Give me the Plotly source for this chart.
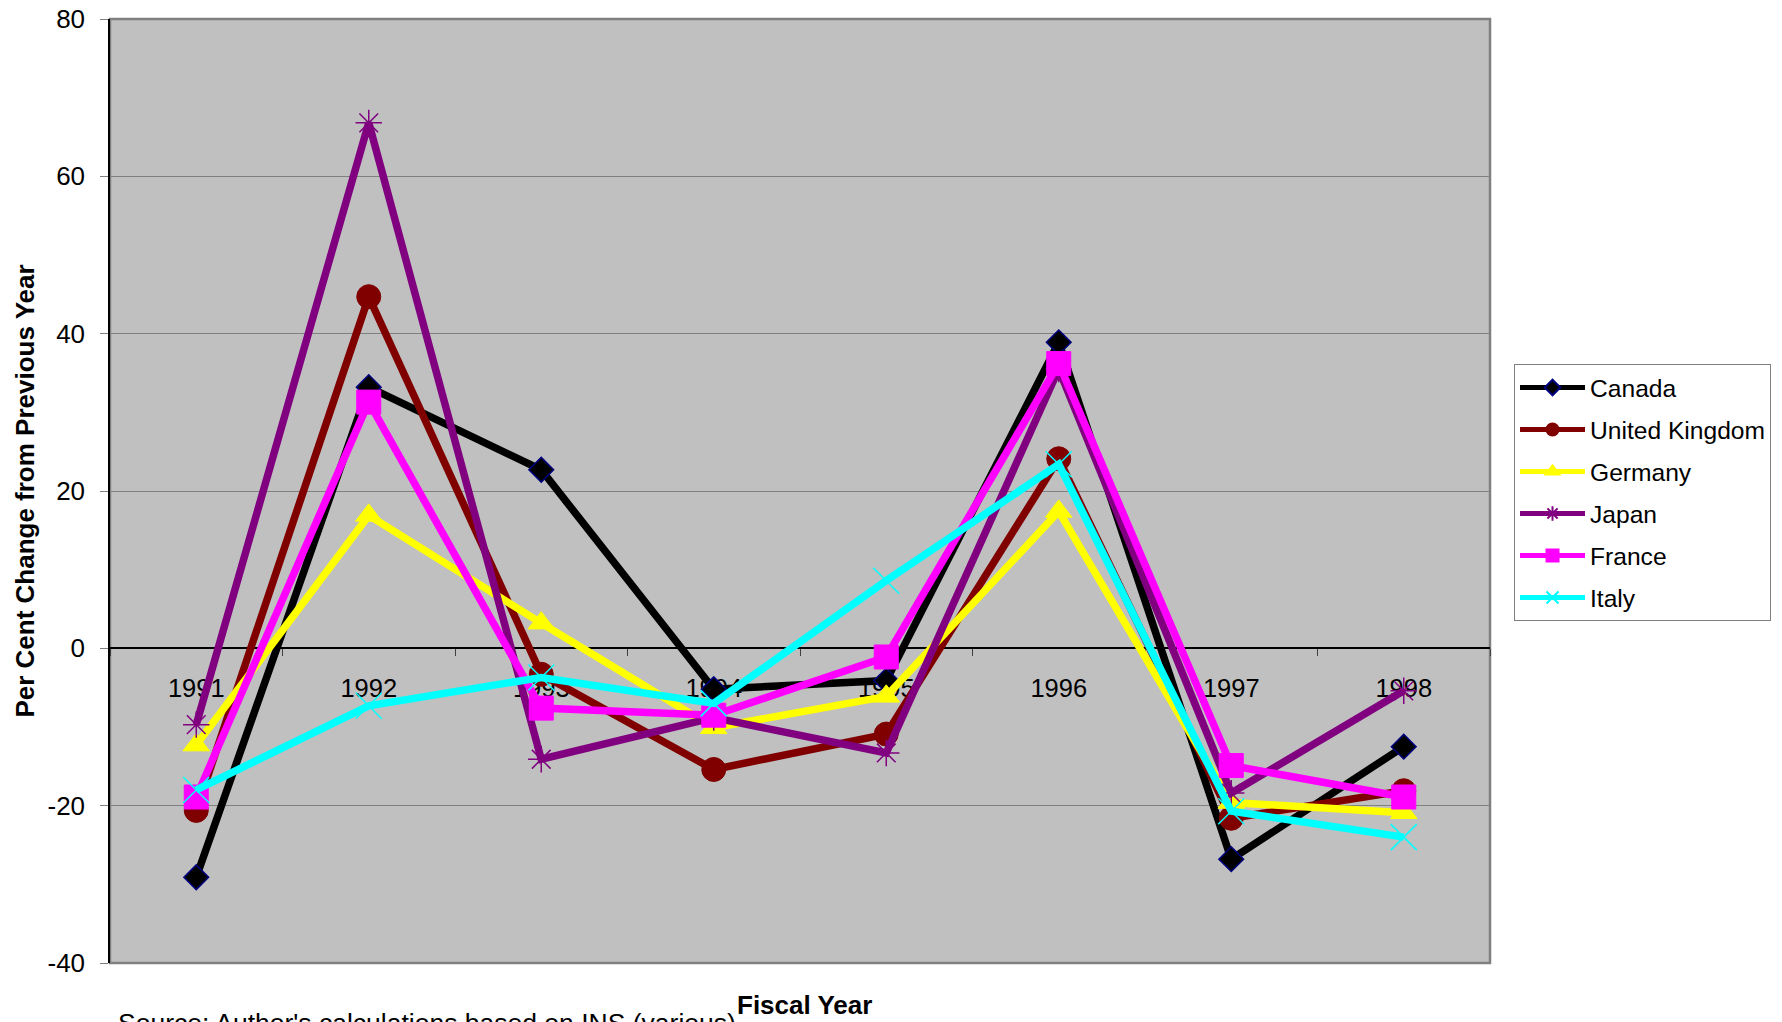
import plotly.graph_objects as go

# Fiscal years on the category axis
years = ["1991", "1992", "1993", "1994", "1995", "1996", "1997", "1998"]

# Per cent change from previous year, by country
canada = [-29.1, 33.2, 22.7, -5.2, -4.1, 38.9, -26.8, -12.5]
united_kingdom = [-20.6, 44.7, -3.3, -15.4, -10.9, 24.1, -21.6, -18.1]
germany = [-12.3, 16.9, 3.2, -10.1, -6.1, 17.4, -19.6, -20.9]
japan = [-9.7, 66.8, -14.1, -8.8, -13.3, 35.5, -18.4, -5.4]
france = [-18.9, 31.3, -7.6, -8.5, -1.1, 36.2, -14.9, -18.9]
italy = [-18.0, -7.3, -3.7, -7.0, 8.6, 23.4, -20.7, -24.0]

# Y axis ticks
ytick_vals = [-40, -20, 0, 20, 40, 60, 80]
ytick_text = ["-40", "-20", "0", "20", "40", "60", "80"]

FONT = "Arial, Liberation Sans, sans-serif"

series = [
    ("Canada", canada, "#000000",
     dict(symbol="diamond", size=19, color="#000000", line=dict(color="#000080", width=1.5))),
    ("United Kingdom", united_kingdom, "#800000",
     dict(symbol="circle", size=24, color="#800000", line=dict(color="#800000", width=1))),
    ("Germany", germany, "#FFFF00",
     dict(symbol="triangle-up", size=23, color="#FFFF00", line=dict(color="#FFFF00", width=1))),
    ("Japan", japan, "#800080",
     dict(symbol="asterisk-open", size=22, color="#800080", line=dict(color="#800080", width=1.5))),
    ("France", france, "#FF00FF",
     dict(symbol="square", size=24, color="#FF00FF", line=dict(color="#FF00FF", width=1))),
    ("Italy", italy, "#00FFFF",
     dict(symbol="x-thin-open", size=26, color="#00FFFF", line=dict(color="#00FFFF", width=1.5))),
]

fig = go.Figure()
for i, (name, vals, color, marker) in enumerate(series):
    fig.add_trace(go.Scatter(
        x=years, y=vals, name=name, mode="lines+markers",
        line=dict(color=color, width=7.5),
        marker=marker,
        legendgroup=f"g{i}",
    ))

# Plot frame: grey border on top, right and bottom
fig.add_shape(type="rect", xref="paper", yref="paper", x0=0, y0=0, x1=1, y1=1,
              line=dict(color="#808080", width=2.5), layer="below")

fig.update_layout(
    width=1782, height=1022,
    margin=dict(l=110, r=292, t=19, b=59, autoexpand=False),
    paper_bgcolor="#FFFFFF",
    plot_bgcolor="#C0C0C0",
    font=dict(family=FONT, size=25, color="#000000"),
    showlegend=True,
    legend=dict(
        x=1.0174, y=0.6345, xanchor="left", yanchor="top",
        bgcolor="#FFFFFF", bordercolor="#808080", borderwidth=1,
        font=dict(family=FONT, size=24.6, color="#000000"),
        tracegroupgap=7, itemwidth=65, itemsizing="constant",
    ),
    xaxis=dict(
        type="category", range=[-0.5, 7.5],
        anchor="free", position=1 / 3, automargin=False,
        showline=True, linecolor="#000000", linewidth=1.5,
        ticks="outside", ticklen=7, tickcolor="#404040", tickwidth=1,
        tickson="boundaries", showgrid=False, layer="below traces",
        ticklabelstandoff=17,
        tickfont=dict(family=FONT, size=25.5, color="#000000"),
    ),
    yaxis=dict(
        range=[-40, 80], tickvals=ytick_vals, ticktext=ytick_text,
        automargin=False,
        showline=True, linecolor="#000000", linewidth=1.5,
        ticks="outside", ticklen=8, tickcolor="#808080",
        showgrid=True, gridcolor="#808080", gridwidth=1.2,
        zeroline=False, ticklabelstandoff=10,
        tickfont=dict(family=FONT, size=26, color="#000000"),
        title=dict(text="<b>Per Cent Change from Previous Year</b>",
                   font=dict(family=FONT, size=26, color="#000000"), standoff=5),
    ),
    annotations=[
        dict(text="<b>Fiscal Year</b>", xref="paper", yref="paper",
             x=0.5036, y=-0.0440, xanchor="center", yanchor="middle",
             showarrow=False, font=dict(family=FONT, size=26, color="#000000")),
        dict(text="Source: Author's calculations based on INS (various)",
             xref="paper", yref="paper", x=(116 - 110) / 1380, y=-0.046,
             xanchor="left", yanchor="top", showarrow=False,
             font=dict(family=FONT, size=26.5, color="#000000")),
    ],
)

fig.write_html("out.html")
